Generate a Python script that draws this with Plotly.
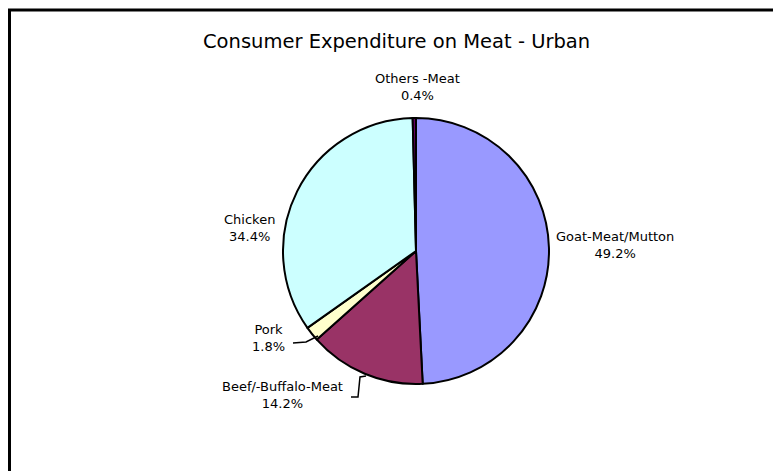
import plotly.graph_objects as go

W, H = 781, 471
OFF = 8  # the page body adds an 8px margin around the plot

title = "Consumer Expenditure on Meat - Urban"
categories = ["Goat-Meat/Mutton", "Beef/-Buffalo-Meat", "Pork", "Chicken", "Others -Meat"]
shares = [49.2, 14.2, 1.8, 34.4, 0.4]
colors = ["#9999FF", "#993366", "#FFFFCC", "#CCFFFF", "#660066"]

# label centers in screen pixels (name line + value line)
label_pos = {
    "Goat-Meat/Mutton": (615, 245),
    "Beef/-Buffalo-Meat": (282, 395),
    "Pork": (268, 338),
    "Chicken": (249, 228),
    "Others -Meat": (418, 87),
}


def px(x, y):
    return (x - OFF) / W, 1 - (y - OFF) / H


cx, cy, r = 416, 251, 133
x0, y1 = px(cx - r, cy - r)
x1, y0 = px(cx + r, cy + r)

fig = go.Figure(
    go.Pie(
        labels=categories,
        values=shares,
        sort=False,
        direction="clockwise",
        rotation=0,
        marker=dict(colors=colors, line=dict(color="black", width=2)),
        textinfo="none",
        hoverinfo="label+percent",
        showlegend=False,
        domain=dict(x=[x0, x1], y=[y0, y1]),
    )
)

font = dict(family="DejaVu Sans, sans-serif", size=13, color="black")
annotations = []
for name, val in zip(categories, shares):
    ax, ay = px(*label_pos[name])
    annotations.append(
        dict(
            x=ax, y=ay, xref="paper", yref="paper",
            text=f"{name}<br>{val:.1f}%",
            showarrow=False, font=font, align="center",
            xanchor="center", yanchor="middle",
        )
    )
tx, ty = px(396, 42)
annotations.append(
    dict(
        x=tx, y=ty, xref="paper", yref="paper", text=title, showarrow=False,
        font=dict(family="DejaVu Sans, sans-serif", size=19.5, color="black"),
        xanchor="center", yanchor="middle",
    )
)

fx, fy = px(9.5, 10)
shapes = [
    # chart frame (runs off the right and bottom edges)
    dict(type="rect", xref="paper", yref="paper",
         x0=fx, x1=1.02, y0=-0.02, y1=fy,
         line=dict(color="black", width=3), fillcolor="rgba(0,0,0,0)"),
]
# leader lines for Pork and Beef
leaders = [
    [(293, 343), (306, 342), (318, 336)],
    [(351, 397), (358, 397), (360, 377), (366, 376)],
]
for pts in leaders:
    path = "M " + " L ".join("{} {}".format(*px(*p)) for p in pts)
    shapes.append(dict(type="path", xref="paper", yref="paper", path=path,
                       line=dict(color="black", width=1.5)))

fig.update_layout(
    width=W, height=H,
    margin=dict(l=0, r=0, t=0, b=0),
    paper_bgcolor="white",
    plot_bgcolor="white",
    annotations=annotations,
    shapes=shapes,
)

fig.write_html("out.html")
